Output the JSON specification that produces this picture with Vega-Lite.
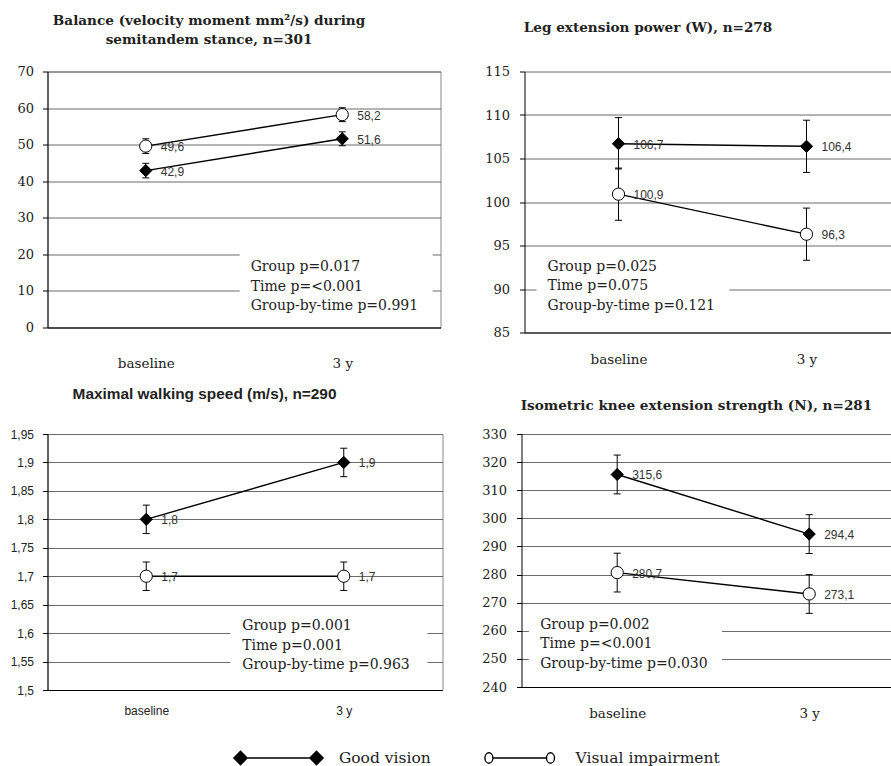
{
  "$schema": "https://vega.github.io/schema/vega-lite/v6.json",
  "padding": {"left": 4.5, "top": 13.5, "right": 0, "bottom": 0},
  "background": "white",
  "config": {
    "locale": {"number": {"decimal": ",", "thousands": ".", "grouping": [3], "currency": ["", ""]}},
    "view": {"stroke": "#888"}
  },
  "datasets": {
    "means": [
      {"panel": "balance", "group": "Good vision", "time": "baseline", "mean": 42.9, "lo": 40.9, "hi": 44.9},
      {"panel": "balance", "group": "Good vision", "time": "3 y", "mean": 51.6, "lo": 49.7, "hi": 53.5},
      {"panel": "balance", "group": "Visual impairment", "time": "baseline", "mean": 49.6, "lo": 47.6, "hi": 51.6},
      {"panel": "balance", "group": "Visual impairment", "time": "3 y", "mean": 58.2, "lo": 56.3, "hi": 60.1},
      {"panel": "leg", "group": "Good vision", "time": "baseline", "mean": 106.7, "lo": 103.8, "hi": 109.7},
      {"panel": "leg", "group": "Good vision", "time": "3 y", "mean": 106.4, "lo": 103.4, "hi": 109.4},
      {"panel": "leg", "group": "Visual impairment", "time": "baseline", "mean": 100.9, "lo": 97.9, "hi": 103.9},
      {"panel": "leg", "group": "Visual impairment", "time": "3 y", "mean": 96.3, "lo": 93.3, "hi": 99.3},
      {"panel": "walk", "group": "Good vision", "time": "baseline", "mean": 1.8, "lo": 1.775, "hi": 1.825},
      {"panel": "walk", "group": "Good vision", "time": "3 y", "mean": 1.9, "lo": 1.875, "hi": 1.925},
      {"panel": "walk", "group": "Visual impairment", "time": "baseline", "mean": 1.7, "lo": 1.675, "hi": 1.725},
      {"panel": "walk", "group": "Visual impairment", "time": "3 y", "mean": 1.7, "lo": 1.675, "hi": 1.725},
      {"panel": "knee", "group": "Good vision", "time": "baseline", "mean": 315.6, "lo": 308.7, "hi": 322.5},
      {"panel": "knee", "group": "Good vision", "time": "3 y", "mean": 294.4, "lo": 287.5, "hi": 301.3},
      {"panel": "knee", "group": "Visual impairment", "time": "baseline", "mean": 280.7, "lo": 273.8, "hi": 287.6},
      {"panel": "knee", "group": "Visual impairment", "time": "3 y", "mean": 273.1, "lo": 266.2, "hi": 280.0}
    ],
    "stats": [
      {"panel": "balance", "stats": "Group p=0.017\nTime p=<0.001\nGroup-by-time p=0.991"},
      {"panel": "leg", "stats": "Group p=0.025\nTime p=0.075\nGroup-by-time p=0.121"},
      {"panel": "walk", "stats": "Group p=0.001\nTime p=0.001\nGroup-by-time p=0.963"},
      {"panel": "knee", "stats": "Group p=0.002\nTime p=<0.001\nGroup-by-time p=0.030"}
    ]
  },
  "spacing": 27.5,
  "vconcat": [
    {
      "spacing": 15.5,
      "vconcat": [
        {
          "bounds": "flush",
          "spacing": 84,
          "hconcat": [
            {
              "width": 393, "height": 256,
              "view": {"stroke": "#888"},
              "title": {"text": ["Balance (velocity moment mm²/s) during", "semitandem stance, n=301"], "font": "DejaVu Serif", "fontWeight": "bold", "fontSize": 13.6, "lineHeight": 19, "anchor": "middle", "frame": "group", "dx": -35, "offset": 18.5, "color": "#222"},
              "resolve": {"scale": {"x": "independent"}},
              "layer": [
                {
                  "data": {"name": "means"},
                  "transform": [{"filter": "datum.panel === 'balance'"}],
                  "encoding": {
                    "x": {"field": "time", "type": "nominal", "sort": ["baseline", "3 y"], "scale": {"type": "point", "padding": 0.5},
                          "axis": {"title": null, "labelAngle": 0, "ticks": false, "tickSize": 0, "domainColor": "black", "labelPadding": 28.5, "labelFont": "DejaVu Serif", "labelFontSize": 13.5, "labelColor": "#222", "grid": false}},
                    "y": {"field": "mean", "type": "quantitative", "title": null, "scale": {"domain": [0, 70], "nice": false, "zero": false},
                          "axis": {"title": null, "values": [0, 10, 20, 30, 40, 50, 60, 70], "tickCount": 30, "grid": true, "gridColor": "#6a6a6a", "domainColor": "black", "tickColor": "black", "tickSize": 5, "labelPadding": 9, "labelFont": "DejaVu Serif", "labelFontSize": 13, "labelColor": "#222", "minExtent": 42}}
                  },
                  "layer": [
                    {"mark": {"type": "line", "color": "black", "strokeWidth": 1.4}, "encoding": {"detail": {"field": "group"}}},
                    {"mark": {"type": "rule", "color": "black", "strokeWidth": 1}, "encoding": {"y": {"field": "lo", "type": "quantitative", "title": null}, "y2": {"field": "hi"}}},
                    {"mark": {"type": "tick", "color": "black", "thickness": 1, "size": 7, "opacity": 1}, "encoding": {"y": {"field": "lo", "type": "quantitative", "title": null}}},
                    {"mark": {"type": "tick", "color": "black", "thickness": 1, "size": 7, "opacity": 1}, "encoding": {"y": {"field": "hi", "type": "quantitative", "title": null}}},
                    {"mark": {"type": "point", "filled": true, "stroke": "black", "strokeWidth": 1, "size": 150, "opacity": 1},
                     "encoding": {
                       "shape": {"field": "group", "type": "nominal", "scale": {"domain": ["Good vision", "Visual impairment"], "range": ["diamond", "circle"]}, "legend": null},
                       "fill": {"field": "group", "type": "nominal", "scale": {"domain": ["Good vision", "Visual impairment"], "range": ["black", "white"]}, "legend": null}}},
                    {"mark": {"type": "text", "align": "left", "baseline": "middle", "dx": 15, "dy": 1, "font": "Liberation Sans", "fontSize": 12, "color": "#333"},
                     "encoding": {"text": {"field": "mean", "type": "quantitative", "format": ".1f"}}}
                  ]
                },
                {
                  "data": {"name": "stats"},
                  "transform": [{"filter": "datum.panel === 'balance'"}],
                  "layer": [
                    {"mark": {"type": "rect", "fill": "white"},
                     "encoding": {
                       "x": {"datum": 0.489, "type": "quantitative", "scale": {"domain": [0, 1]}, "axis": null},
                       "x2": {"datum": 0.98},
                       "y": {"datum": 21.2, "type": "quantitative", "title": null},
                       "y2": {"datum": 2.6}}},
                    {"mark": {"type": "text", "align": "left", "baseline": "middle", "lineBreak": "\n", "lineHeight": 19.5, "font": "DejaVu Serif", "fontSize": 14, "color": "#222"},
                     "encoding": {
                       "x": {"datum": 0.517, "type": "quantitative", "scale": {"domain": [0, 1]}, "axis": null},
                       "y": {"datum": 16.54, "type": "quantitative", "title": null},
                       "text": {"field": "stats"}}}
                  ]
                }
              ]
            },
            {
              "width": 366, "height": 261,
              "view": {"stroke": null},
              "title": {"text": "Leg extension power (W), n=278", "font": "DejaVu Serif", "fontWeight": "bold", "fontSize": 13.6, "anchor": "middle", "frame": "group", "dx": -59.5, "offset": 31, "color": "#222"},
              "resolve": {"scale": {"x": "independent"}},
              "layer": [
                {
                  "data": {"name": "means"},
                  "transform": [{"filter": "datum.panel === 'leg'"}],
                  "encoding": {
                    "x": {"field": "time", "type": "nominal", "sort": ["baseline", "3 y"], "scale": {"type": "point", "padding": 0.4734, "align": 0.528},
                          "axis": {"title": null, "labelAngle": 0, "ticks": false, "tickSize": 0, "domainColor": "black", "labelPadding": 20, "labelFont": "DejaVu Serif", "labelFontSize": 13.5, "labelColor": "#222", "grid": false}},
                    "y": {"field": "mean", "type": "quantitative", "title": null, "scale": {"domain": [85, 115], "nice": false, "zero": false},
                          "axis": {"title": null, "values": [85, 90, 95, 100, 105, 110, 115], "tickCount": 30, "grid": true, "gridColor": "#6a6a6a", "domainColor": "black", "tickColor": "black", "tickSize": 5, "labelPadding": 10, "labelFont": "DejaVu Serif", "labelFontSize": 13, "labelColor": "#222"}}
                  },
                  "layer": [
                    {"mark": {"type": "line", "color": "black", "strokeWidth": 1.4}, "encoding": {"detail": {"field": "group"}}},
                    {"mark": {"type": "rule", "color": "black", "strokeWidth": 1}, "encoding": {"y": {"field": "lo", "type": "quantitative", "title": null}, "y2": {"field": "hi"}}},
                    {"mark": {"type": "tick", "color": "black", "thickness": 1, "size": 7, "opacity": 1}, "encoding": {"y": {"field": "lo", "type": "quantitative", "title": null}}},
                    {"mark": {"type": "tick", "color": "black", "thickness": 1, "size": 7, "opacity": 1}, "encoding": {"y": {"field": "hi", "type": "quantitative", "title": null}}},
                    {"mark": {"type": "point", "filled": true, "stroke": "black", "strokeWidth": 1, "size": 150, "opacity": 1},
                     "encoding": {
                       "shape": {"field": "group", "type": "nominal", "scale": {"domain": ["Good vision", "Visual impairment"], "range": ["diamond", "circle"]}, "legend": null},
                       "fill": {"field": "group", "type": "nominal", "scale": {"domain": ["Good vision", "Visual impairment"], "range": ["black", "white"]}, "legend": null}}},
                    {"mark": {"type": "text", "align": "left", "baseline": "middle", "dx": 15, "dy": 1, "font": "Liberation Sans", "fontSize": 12, "color": "#333"},
                     "encoding": {"text": {"field": "mean", "type": "quantitative", "format": ".1f"}}}
                  ]
                },
                {
                  "data": {"name": "stats"},
                  "transform": [{"filter": "datum.panel === 'leg'"}],
                  "layer": [
                    {"mark": {"type": "rect", "fill": "white"},
                     "encoding": {
                       "x": {"datum": 0.0328, "type": "quantitative", "scale": {"domain": [0, 1]}, "axis": null},
                       "x2": {"datum": 0.56},
                       "y": {"datum": 94.5, "type": "quantitative", "title": null},
                       "y2": {"datum": 87.8}}},
                    {"mark": {"type": "text", "align": "left", "baseline": "middle", "lineBreak": "\n", "lineHeight": 19.5, "font": "DejaVu Serif", "fontSize": 14, "color": "#222"},
                     "encoding": {
                       "x": {"datum": 0.0628, "type": "quantitative", "scale": {"domain": [0, 1]}, "axis": null},
                       "y": {"datum": 92.53, "type": "quantitative", "title": null},
                       "text": {"field": "stats"}}}
                  ]
                }
              ]
            }
          ]
        },
        {
          "bounds": "flush",
          "spacing": 79,
          "hconcat": [
            {
              "width": 395, "height": 256,
              "view": {"stroke": "#888"},
              "title": {"text": "Maximal walking speed (m/s), n=290", "font": "Liberation Sans", "fontWeight": "bold", "fontSize": 15.4, "anchor": "middle", "frame": "group", "dx": -40.5, "offset": 25.5, "color": "#222"},
              "resolve": {"scale": {"x": "independent"}},
              "layer": [
                {
                  "data": {"name": "means"},
                  "transform": [{"filter": "datum.panel === 'walk'"}],
                  "encoding": {
                    "x": {"field": "time", "type": "nominal", "sort": ["baseline", "3 y"], "scale": {"type": "point", "padding": 0.5},
                          "axis": {"title": null, "labelAngle": 0, "ticks": false, "tickSize": 0, "domainColor": "black", "labelPadding": 15.5, "labelFont": "Liberation Sans", "labelFontSize": 12, "labelColor": "#222", "grid": false}},
                    "y": {"field": "mean", "type": "quantitative", "title": null, "scale": {"domain": [1.5, 1.95], "nice": false, "zero": false},
                          "axis": {"title": null, "values": [1.5, 1.55, 1.6, 1.65, 1.7, 1.75, 1.8, 1.85, 1.9, 1.95], "tickCount": 30, "format": ".2~f", "grid": true, "gridColor": "#6a6a6a", "domainColor": "black", "tickColor": "black", "tickSize": 5, "labelPadding": 9, "labelFont": "Liberation Sans", "labelFontSize": 12, "labelColor": "#222", "minExtent": 38}}
                  },
                  "layer": [
                    {"mark": {"type": "line", "color": "black", "strokeWidth": 1.4}, "encoding": {"detail": {"field": "group"}}},
                    {"mark": {"type": "rule", "color": "black", "strokeWidth": 1}, "encoding": {"y": {"field": "lo", "type": "quantitative", "title": null}, "y2": {"field": "hi"}}},
                    {"mark": {"type": "tick", "color": "black", "thickness": 1, "size": 7, "opacity": 1}, "encoding": {"y": {"field": "lo", "type": "quantitative", "title": null}}},
                    {"mark": {"type": "tick", "color": "black", "thickness": 1, "size": 7, "opacity": 1}, "encoding": {"y": {"field": "hi", "type": "quantitative", "title": null}}},
                    {"mark": {"type": "point", "filled": true, "stroke": "black", "strokeWidth": 1, "size": 150, "opacity": 1},
                     "encoding": {
                       "shape": {"field": "group", "type": "nominal", "scale": {"domain": ["Good vision", "Visual impairment"], "range": ["diamond", "circle"]}, "legend": null},
                       "fill": {"field": "group", "type": "nominal", "scale": {"domain": ["Good vision", "Visual impairment"], "range": ["black", "white"]}, "legend": null}}},
                    {"mark": {"type": "text", "align": "left", "baseline": "middle", "dx": 15, "dy": 1, "font": "Liberation Sans", "fontSize": 12, "color": "#333"},
                     "encoding": {"text": {"field": "mean", "type": "quantitative", "format": ".1f"}}}
                  ]
                },
                {
                  "data": {"name": "stats"},
                  "transform": [{"filter": "datum.panel === 'walk'"}],
                  "layer": [
                    {"mark": {"type": "rect", "fill": "white"},
                     "encoding": {
                       "x": {"datum": 0.463, "type": "quantitative", "scale": {"domain": [0, 1]}, "axis": null},
                       "x2": {"datum": 0.962},
                       "y": {"datum": 1.6415, "type": "quantitative", "title": null},
                       "y2": {"datum": 1.5116}}},
                    {"mark": {"type": "text", "align": "left", "baseline": "middle", "lineBreak": "\n", "lineHeight": 19.5, "font": "DejaVu Serif", "fontSize": 14, "color": "#222"},
                     "encoding": {
                       "x": {"datum": 0.493, "type": "quantitative", "scale": {"domain": [0, 1]}, "axis": null},
                       "y": {"datum": 1.612, "type": "quantitative", "title": null},
                       "text": {"field": "stats"}}}
                  ]
                }
              ]
            },
            {
              "width": 370, "height": 253,
              "view": {"stroke": null},
              "title": {"text": "Isometric knee extension strength (N), n=281", "font": "DejaVu Serif", "fontWeight": "bold", "fontSize": 13.6, "anchor": "middle", "frame": "group", "dx": -10, "offset": 15, "color": "#222"},
              "resolve": {"scale": {"x": "independent"}},
              "layer": [
                {
                  "data": {"name": "means"},
                  "transform": [{"filter": "datum.panel === 'knee'"}],
                  "encoding": {
                    "x": {"field": "time", "type": "nominal", "sort": ["baseline", "3 y"], "scale": {"type": "point", "padding": 0.4635, "align": 0.5376},
                          "axis": {"title": null, "labelAngle": 0, "ticks": false, "tickSize": 0, "domainColor": "black", "labelPadding": 19.5, "labelFont": "DejaVu Serif", "labelFontSize": 13.5, "labelColor": "#222", "grid": false}},
                    "y": {"field": "mean", "type": "quantitative", "title": null, "scale": {"domain": [240, 330], "nice": false, "zero": false},
                          "axis": {"title": null, "values": [240, 250, 260, 270, 280, 290, 300, 310, 320, 330], "tickCount": 30, "grid": true, "gridColor": "#6a6a6a", "domainColor": "black", "tickColor": "black", "tickSize": 5, "labelPadding": 10, "labelFont": "DejaVu Serif", "labelFontSize": 13, "labelColor": "#222"}}
                  },
                  "layer": [
                    {"mark": {"type": "line", "color": "black", "strokeWidth": 1.4}, "encoding": {"detail": {"field": "group"}}},
                    {"mark": {"type": "rule", "color": "black", "strokeWidth": 1}, "encoding": {"y": {"field": "lo", "type": "quantitative", "title": null}, "y2": {"field": "hi"}}},
                    {"mark": {"type": "tick", "color": "black", "thickness": 1, "size": 7, "opacity": 1}, "encoding": {"y": {"field": "lo", "type": "quantitative", "title": null}}},
                    {"mark": {"type": "tick", "color": "black", "thickness": 1, "size": 7, "opacity": 1}, "encoding": {"y": {"field": "hi", "type": "quantitative", "title": null}}},
                    {"mark": {"type": "point", "filled": true, "stroke": "black", "strokeWidth": 1, "size": 150, "opacity": 1},
                     "encoding": {
                       "shape": {"field": "group", "type": "nominal", "scale": {"domain": ["Good vision", "Visual impairment"], "range": ["diamond", "circle"]}, "legend": null},
                       "fill": {"field": "group", "type": "nominal", "scale": {"domain": ["Good vision", "Visual impairment"], "range": ["black", "white"]}, "legend": null}}},
                    {"mark": {"type": "text", "align": "left", "baseline": "middle", "dx": 15, "dy": 1, "font": "Liberation Sans", "fontSize": 12, "color": "#333"},
                     "encoding": {"text": {"field": "mean", "type": "quantitative", "format": ".1f"}}}
                  ]
                },
                {
                  "data": {"name": "stats"},
                  "transform": [{"filter": "datum.panel === 'knee'"}],
                  "layer": [
                    {"mark": {"type": "rect", "fill": "white"},
                     "encoding": {
                       "x": {"datum": 0.02, "type": "quantitative", "scale": {"domain": [0, 1]}, "axis": null},
                       "x2": {"datum": 0.542},
                       "y": {"datum": 267.6, "type": "quantitative", "title": null},
                       "y2": {"datum": 242.0}}},
                    {"mark": {"type": "text", "align": "left", "baseline": "middle", "lineBreak": "\n", "lineHeight": 19.5, "font": "DejaVu Serif", "fontSize": 14, "color": "#222"},
                     "encoding": {
                       "x": {"datum": 0.0505, "type": "quantitative", "scale": {"domain": [0, 1]}, "axis": null},
                       "y": {"datum": 262.2, "type": "quantitative", "title": null},
                       "text": {"field": "stats"}}}
                  ]
                }
              ]
            }
          ]
        }
      ]
    },
    {
      "width": 703.2, "height": 16,
      "view": {"stroke": null},
      "data": {"values": [{"group": "Good vision"}, {"group": "Visual impairment"}]},
      "encoding": {"x": {"field": "group", "type": "nominal", "scale": {"type": "point", "padding": 0.9577}, "axis": null}},
      "layer": [
        {"transform": [{"filter": "datum.group === 'Good vision'"}],
         "mark": {"type": "point", "shape": "M-44.5,0L-38,-6.5L-31.5,0L-38,6.5Z M31.5,0L38,-6.5L44.5,0L38,6.5Z M-38,0L38,0", "size": 4, "filled": true, "fill": "black", "stroke": "black", "strokeWidth": 1.6, "opacity": 1}},
        {"transform": [{"filter": "datum.group === 'Visual impairment'"}],
         "mark": {"type": "point", "shape": "M-34.8,0A4,5.2 0 1 0 -26.8,0A4,5.2 0 1 0 -34.8,0Z M26.8,0A4,5.2 0 1 0 34.8,0A4,5.2 0 1 0 26.8,0Z M-26.8,0L26.8,0", "size": 4, "filled": false, "stroke": "black", "strokeWidth": 1.4, "opacity": 1}},
        {"transform": [{"filter": "datum.group === 'Good vision'"}],
         "mark": {"type": "text", "align": "left", "baseline": "middle", "dx": 60.4, "font": "DejaVu Serif", "fontSize": 15.5, "color": "#222"},
         "encoding": {"text": {"field": "group"}}},
        {"transform": [{"filter": "datum.group === 'Visual impairment'"}],
         "mark": {"type": "text", "align": "left", "baseline": "middle", "dx": 55.8, "font": "DejaVu Serif", "fontSize": 15.5, "color": "#222"},
         "encoding": {"text": {"field": "group"}}}
      ]
    }
  ]
}
